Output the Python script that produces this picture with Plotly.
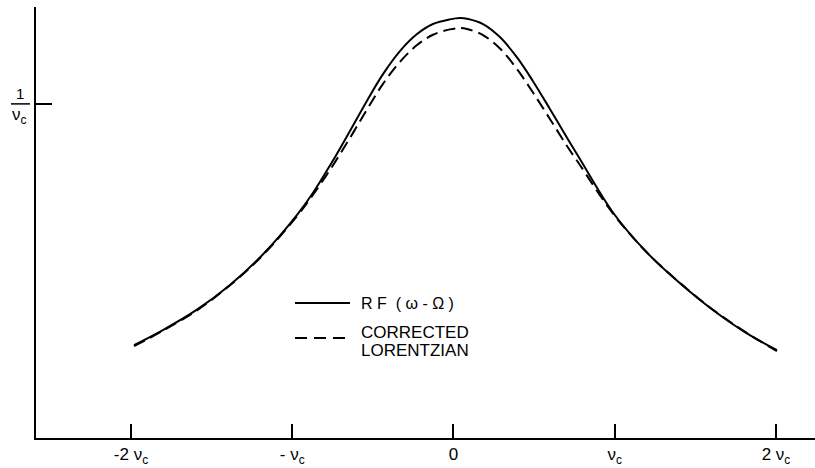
import plotly.graph_objects as go

# Frequency offset in units of nu_c, line-shape value in units of 1/nu_c
rf_x = [-1.981, -1.802, -1.591, -1.386, -1.181, -0.970, -0.871, -0.753, -0.642,
        -0.537, -0.437, -0.332, -0.226, -0.127, -0.022, 0.040, 0.084, 0.183,
        0.288, 0.394, 0.493, 0.598, 0.704, 0.784, 0.989, 1.200, 1.405, 1.609,
        1.820, 2.006]
rf_y = [0.278, 0.323, 0.384, 0.458, 0.550, 0.668, 0.734, 0.826, 0.919,
        1.009, 1.089, 1.158, 1.209, 1.239, 1.253, 1.257, 1.255, 1.239,
        1.200, 1.139, 1.068, 0.985, 0.899, 0.835, 0.675, 0.555, 0.463, 0.383,
        0.313, 0.263]

lor_x = [-1.981, -1.802, -1.591, -1.386, -1.181, -0.970, -0.871, -0.753, -0.642,
         -0.537, -0.437, -0.332, -0.226, -0.127, -0.022, 0.040, 0.084, 0.183,
         0.288, 0.394, 0.493, 0.598, 0.704, 0.784, 0.989, 1.200, 1.405, 1.609,
         1.820, 2.006]
lor_y = [0.275, 0.321, 0.382, 0.457, 0.548, 0.664, 0.728, 0.812, 0.898,
         0.983, 1.060, 1.126, 1.176, 1.207, 1.223, 1.227, 1.224, 1.206,
         1.166, 1.104, 1.034, 0.955, 0.874, 0.817, 0.672, 0.555, 0.464, 0.384,
         0.314, 0.260]

x_ticks = [-2, -1, 0, 1, 2]
x_tick_text = ["-2 ν<sub>c</sub>", "- ν<sub>c</sub>", "0", "ν<sub>c</sub>", "2 ν<sub>c</sub>"]
y_tick = 1.0

NB = "\u00a0"
legend_rf = "R" + NB + "F" + NB * 2 + "(" + NB + "ω" + NB + "-" + NB + "Ω" + NB + ")"
legend_lor = ["CORRECTED", "LORENTZIAN"]

FONT = "Liberation Sans"
W, H = 815, 468
L, R, T, B = 36, 0, 7, 30
PW, PH = W - L - R, H - T - B


def px(xp):
    return (xp - L) / PW


def py(yp):
    return (H - B - yp) / PH


fig = go.Figure()
fig.add_trace(go.Scatter(x=rf_x, y=rf_y, mode="lines", line_shape="spline",
                         line=dict(color="black", width=2), showlegend=False))
fig.add_trace(go.Scatter(x=lor_x, y=lor_y, mode="lines", line_shape="spline",
                         line=dict(color="black", width=2, dash="12px,6px"),
                         showlegend=False))

shapes = [
    # legend samples
    dict(type="line", xref="paper", yref="paper", x0=px(295), x1=px(350),
         y0=py(303), y1=py(303), line=dict(color="black", width=2)),
    dict(type="line", xref="paper", yref="paper", x0=px(295), x1=px(350),
         y0=py(338), y1=py(338), line=dict(color="black", width=2, dash="12px,7px")),
    # fraction bar of the y tick label
    dict(type="line", xref="paper", yref="y", x0=px(11), x1=px(30),
         y0=y_tick, y1=y_tick, line=dict(color="black", width=1.5)),
]

annotations = [
    dict(text=legend_rf, xref="paper", yref="paper", x=px(359), y=py(303),
         xanchor="left", yanchor="middle", showarrow=False,
         font=dict(family=FONT, size=16, color="black")),
    dict(text=legend_lor[0], xref="paper", yref="paper", x=px(359), y=py(332),
         xanchor="left", yanchor="middle", showarrow=False,
         font=dict(family=FONT, size=17, color="black")),
    dict(text=legend_lor[1], xref="paper", yref="paper", x=px(359), y=py(350),
         xanchor="left", yanchor="middle", showarrow=False,
         font=dict(family=FONT, size=17, color="black")),
    dict(text="1", xref="paper", yref="y", x=px(20), y=y_tick, yshift=10,
         xanchor="center", yanchor="middle", showarrow=False,
         font=dict(family=FONT, size=15, color="black")),
    dict(text="ν<sub>c</sub>", xref="paper", yref="y", x=px(19), y=y_tick, yshift=-12,
         xanchor="center", yanchor="middle", showarrow=False,
         font=dict(family=FONT, size=17, color="black")),
]

fig.update_layout(
    width=W, height=H,
    margin=dict(l=L, r=R, t=T, b=B),
    paper_bgcolor="white", plot_bgcolor="white",
    shapes=shapes, annotations=annotations,
    showlegend=False,
    xaxis=dict(range=[-2.589, 2.242], tickvals=x_ticks, ticktext=x_tick_text,
               ticks="inside", ticklen=14, tickwidth=1.5, tickcolor="black",
               showline=True, linecolor="black", linewidth=2,
               showgrid=False, zeroline=False,
               tickfont=dict(family=FONT, size=17, color="black")),
    yaxis=dict(range=[0, 1.29], tickvals=[y_tick], showticklabels=False,
               ticks="inside", ticklen=16, tickwidth=1.5, tickcolor="black",
               showline=True, linecolor="black", linewidth=2,
               showgrid=False, zeroline=False),
)

fig.write_html("out.html")
